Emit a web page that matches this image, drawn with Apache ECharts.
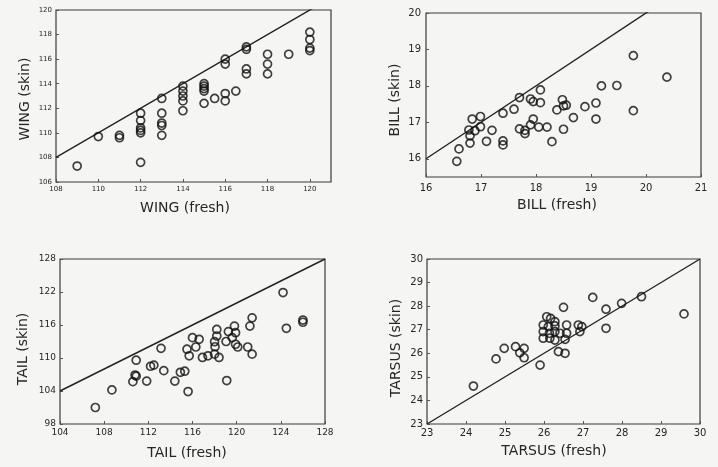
<!DOCTYPE html>
<html><head><meta charset="utf-8">
<script src="https://cdn.jsdelivr.net/npm/echarts@6/dist/echarts.min.js"></script>
<style>html,body{margin:0;padding:0;background:#f5f5f3}#c{width:718px;height:467px}</style>
</head><body><div id="c"></div>
<script>
// WING
const wingFresh = [109,110,111,111,112,112,112,112,112,112,113,113,113,113,113,114,114,114,114,114,115,115,115,115,115,115.5,116,116,116,116,116.5,117,117,117,117,118,118,118,119,120,120,120,120];
const wingSkin  = [107.3,109.7,109.8,109.6,111.6,111.0,110.4,110.2,110.0,107.6,112.8,111.6,110.8,110.6,109.8,113.8,113.4,113.0,112.6,111.8,114.0,113.8,113.6,113.4,112.4,112.8,116.0,115.6,113.2,112.6,113.4,117.0,116.8,115.2,114.8,116.4,115.6,114.8,116.4,118.2,117.6,116.9,116.7];
// BILL
const billFresh = [16.56,16.6,16.78,16.8,16.8,16.84,16.89,16.99,16.99,17.1,17.2,17.4,17.4,17.4,17.6,17.7,17.7,17.8,17.8,17.9,17.9,17.95,17.95,18.05,18.08,18.08,18.2,18.29,18.38,18.48,18.5,18.55,18.5,18.68,18.89,19.09,19.09,19.19,19.47,19.77,19.77,20.38];
const billSkin  = [15.93,16.27,16.79,16.63,16.43,17.09,16.77,17.16,16.88,16.48,16.78,17.25,16.49,16.38,17.36,17.68,16.82,16.78,16.69,17.64,16.93,17.09,17.57,16.87,17.89,17.54,16.87,16.47,17.34,17.62,17.45,17.47,16.81,17.13,17.43,17.53,17.09,18.0,18.01,18.83,17.32,18.24];
// TAIL
const tailFresh = [107.2,108.7,110.6,110.8,110.9,110.9,111.85,112.2,112.5,113.15,113.4,114.4,114.9,115.3,115.5,115.6,115.7,116.0,116.3,116.6,116.9,117.4,118.0,118.0,118.04,118.2,118.2,118.4,119.04,119.25,119.6,119.8,119.9,119.9,120.1,119.1,121.0,121.2,121.4,121.4,124.2,124.5,126.0,126.0];
const tailSkin  = [101.0,104.2,105.7,106.9,106.7,109.6,105.8,108.5,108.7,111.76,107.7,105.8,107.4,107.6,111.6,103.9,110.4,113.7,112.0,113.4,110.1,110.4,110.7,112.96,112.05,114.0,115.2,110.1,113.0,114.8,113.7,115.8,114.6,112.5,112.0,105.9,112.0,115.8,117.3,110.7,121.9,115.4,116.9,116.5];
// TARSUS
const tarsusFresh = [24.19,24.77,24.98,25.27,25.38,25.49,25.49,25.9,26.5,26.07,26.17,26.28,25.98,26.11,26.28,26.58,26.88,26.97,25.98,26.14,26.28,26.41,26.58,26.92,25.98,26.15,26.28,26.54,26.37,26.54,27.59,27.59,27.25,27.99,28.5,29.59];
const tarsusSkin  = [24.61,25.76,26.21,26.28,26.02,26.21,25.81,25.5,27.95,27.55,27.48,27.34,27.2,27.13,27.16,27.2,27.2,27.13,26.92,26.85,26.92,26.85,26.85,26.92,26.64,26.64,26.56,26.59,26.07,26.0,27.87,27.06,28.37,28.12,28.4,27.67];
// 1:1 reference lines (x = y endpoints)
const wingLine = [108,121];
const billLine = [16,21];
const tailLine = [104,128];
const tarsusLine = [23,30];
// tick labels
const wingXTicks = [108,110,112,114,116,118,120];
const wingYTicks = [106,108,110,112,114,116,118,120];
const billXTicks = [16,17,18,19,20,21];
const billYTicks = [16,17,18,19,20];
const tailXTicks = [104,108,112,116,120,124,128];
const tailYTicks = [98,104,110,116,122,128];
const tarsusTicks = [23,24,25,26,27,28,29,30];
// axis titles
const xTitles = ['WING (fresh)','BILL (fresh)','TAIL (fresh)','TARSUS (fresh)'];
const yTitles = ['WING (skin)','BILL (skin)','TAIL (skin)','TARSUS (skin)'];

const ff = '"DejaVu Sans", Verdana, sans-serif';
const txt = '#262626';
const grids = [
  {left:56, top:10, width:275, height:172},
  {left:426, top:13, width:275, height:164},
  {left:60, top:259, width:265, height:165},
  {left:427, top:259, width:273, height:165}
].map(g => Object.assign({show:true, borderColor:'#3a3a3a', borderWidth:1.2, backgroundColor:'transparent'}, g));

function ax(i, min, max, ticks, fs, margin) {
  return {type:'value', gridIndex:i, min:min, max:max,
    axisLine:{show:false}, splitLine:{show:false},
    axisTick:{show:true, inside:true, length:3, lineStyle:{color:'#555'}, customValues:ticks},
    axisLabel:{fontFamily:ff, fontSize:fs, color:txt, margin:margin, customValues:ticks}};
}
const xAxes = [
  ax(0,108,121,wingXTicks,7,4),
  ax(1,16,21,billXTicks,10,6),
  ax(2,104,128,tailXTicks,9,4),
  ax(3,23,30,tarsusTicks,10,4)
];
const yAxes = [
  ax(0,106,120,wingYTicks,7,4),
  ax(1,15.5,20,billYTicks,10,5),
  ax(2,98,128,tailYTicks,9,4),
  ax(3,23,30,tarsusTicks,10,4)
];
const sets = [[wingFresh,wingSkin,wingLine],[billFresh,billSkin,billLine],[tailFresh,tailSkin,tailLine],[tarsusFresh,tarsusSkin,tarsusLine]];
const series = [];
sets.forEach((s,i) => {
  series.push({type:'line', xAxisIndex:i, yAxisIndex:i, data:s[2].map(v=>[v,v]), symbol:'none', silent:true, clip:true,
    lineStyle:{color:'#222', width:1.4}, z:1});
  series.push({type:'scatter', xAxisIndex:i, yAxisIndex:i, data:s[0].map((v,k)=>[v,s[1][k]]), symbol:'circle', symbolSize:8,
    itemStyle:{color:'rgba(0,0,0,0)', borderColor:'#111', borderWidth:1.7}, z:2});
});
const xPos = [[185,208],[557,205],[187,453],[554,451]];
const yPos = [[25,99],[395,100],[23,349],[396,348]];
const graphic = [];
xTitles.forEach((t,i)=>graphic.push({type:'text', x:xPos[i][0], y:xPos[i][1],
  style:{text:t, font:'14px '+ff, fill:txt, textAlign:'center', textVerticalAlign:'middle'}}));
yTitles.forEach((t,i)=>graphic.push({type:'text', x:yPos[i][0], y:yPos[i][1], rotation:Math.PI/2,
  style:{text:t, font:'14px '+ff, fill:txt, textAlign:'center', textVerticalAlign:'middle'}}));
const chart = echarts.init(document.getElementById('c'), null, {renderer:'canvas'});
chart.setOption({backgroundColor:'#f5f5f3', animation:false, grid:grids, xAxis:xAxes, yAxis:yAxes, series:series, graphic:graphic});
</script></body></html>
